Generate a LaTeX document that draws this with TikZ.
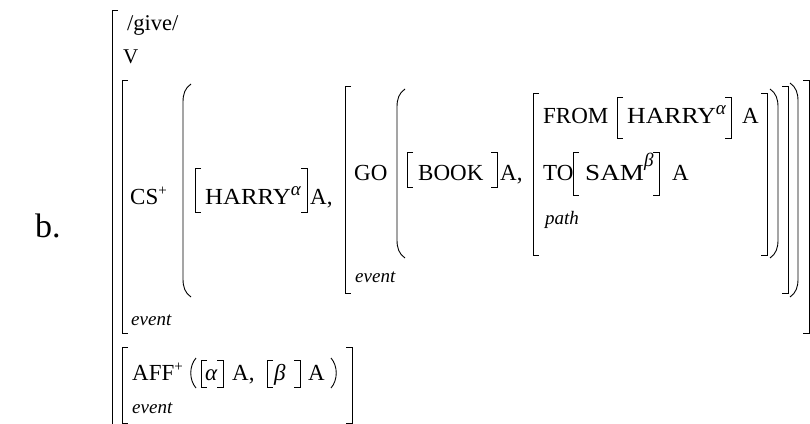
\documentclass[tikz,border=0pt]{standalone}
\usepackage{fontspec}
\setmainfont{Liberation Serif}
\newcommand{\lbr}[3]{\draw[br] (#1+6,#2) -- (#1,#2) -- (#1,#3) -- (#1+6,#3);}
\newcommand{\rbr}[3]{\draw[br] (#1-6,#2) -- (#1,#2) -- (#1,#3) -- (#1-6,#3);}
\newcommand{\lpar}[3]{\draw[br] (#1+8,#2) .. controls (#1+2,#2+4) and (#1,#2+10) .. (#1,#2+18) -- (#1,#3-18) .. controls (#1,#3-10) and (#1+2,#3-4) .. (#1+8,#3);}
\newcommand{\rpar}[3]{\draw[br] (#1-8,#2) .. controls (#1-2,#2+4) and (#1,#2+10) .. (#1,#2+18) -- (#1,#3-18) .. controls (#1,#3-10) and (#1-2,#3-4) .. (#1-8,#3);}
\newcommand{\supg}[2]{\raisebox{#1}{\fontsize{19}{19}\selectfont\itshape #2}}
\newcommand{\supp}{\raisebox{9pt}{\fontsize{15}{15}\selectfont +}}
\begin{document}
\begin{tikzpicture}[x=1pt,y=-1pt,
  br/.style={line width=0.9pt, black},
  txt/.style={inner sep=0, anchor=base west, font=\fontsize{23}{23}\selectfont},
  sm/.style={inner sep=0, anchor=base west, font=\fontsize{21}{21}\selectfont},
  lab/.style={inner sep=0, anchor=base west, font=\fontsize{19}{19}\selectfont\itshape},
  big/.style={inner sep=0, anchor=base west, font=\fontsize{34}{34}\selectfont}]
\useasboundingbox (0,0) rectangle (810,423);
% label
\node[big] (b) at (35,237) {b.};
% outer bracket
\draw[br] (118,10) -- (112,10) -- (112,424);
\node[sm, font=\fontsize{22.5}{22.5}\selectfont] (give) at (127,30) {/give/};
\node[sm] (v) at (123,63) {V};
% CS event bracket
\lbr{122}{80}{333}
\rbr{809}{80}{333}
\node[txt] (cs) at (130,204) {CS\supp};
\node[lab] (ev1) at (131,325) {event};
\lpar{183}{84}{297}
\rpar{798}{83}{297}
% HARRY A,
\lbr{195}{168}{212}
\rbr{307}{168}{212}
\node[txt] (h1) at (205,204) {\scalebox{1.08}[1]{HARRY}\supg{9pt}{α}};
\node[txt] (a1) at (310,204) {A,};
% GO event
\lbr{345}{86}{293}
\rbr{788}{86}{293}
\node[txt] (go) at (354,180) {GO};
\node[lab] (ev2) at (355,282) {event};
\lpar{397}{89}{258}
\rpar{778}{89}{258}
% BOOK
\lbr{407}{152}{187}
\rbr{497}{152}{187}
\node[txt] (book) at (418,180) {BOOK};
\node[txt] (a2) at (500,180) {A,};
% path
\lbr{533}{93}{255}
\rbr{767}{93}{255}
\node[txt] (from) at (543,123) {FROM};
\lbr{617}{97}{138}
\rbr{731}{97}{138}
\node[txt] (h2) at (627,123) {\scalebox{1.12}[1]{HARRY}\supg{9pt}{α}};
\node[txt] (a3) at (742,123) {A};
\node[txt] (to) at (543,180) {TO};
\lbr{573}{152}{195}
\rbr{659}{152}{195}
\node[txt] (sam) at (585,180) {\scalebox{1.18}[1]{SAM}\supg{14pt}{β}};
\node[txt] (a4) at (672,180) {A};
\node[lab] (path) at (545,224) {path};
% AFF
\lbr{122}{347}{423}
\rbr{352}{347}{423}
\node[txt] (aff) at (132,380) {AFF\supp};
\draw[br] (196,358) .. controls (189,366) and (189,380) .. (196,388);
\draw[br] (331,358) .. controls (338,366) and (338,380) .. (331,388);
\lbr{201}{360}{387}
\rbr{223}{360}{387}
\node[txt] (al) at (205,380) {\itshape α};
\node[txt] (a5) at (232,380) {A,};
\lbr{267}{360}{387}
\rbr{300}{360}{387}
\node[txt] (be) at (274,380) {\itshape β};
\node[txt] (a6) at (308,380) {A};
\node[lab] (ev3) at (132,413) {event};
\end{tikzpicture}
\end{document}
